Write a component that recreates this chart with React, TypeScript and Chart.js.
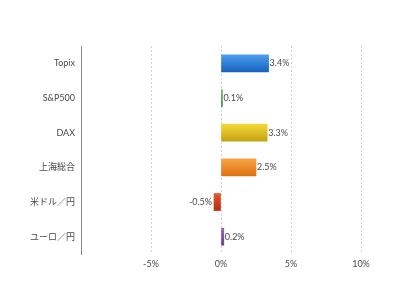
import React, { useEffect, useRef } from "react";
import { Chart, registerables } from "chart.js";

Chart.register(...registerables);

const categories = ["Topix", "S&P500", "DAX", "上海総合", "米ドル／円", "ユーロ／円"];
const values = [3.4, 0.1, 3.3, 2.5, -0.5, 0.2];
const tickValues = [-10, -5, 0, 5, 10];
const topColors = ["#4b9ded", "#5cb860", "#f2d83a", "#f5a443", "#e9562f", "#9466b3"];
const bottomColors = ["#1a63bf", "#2f7d34", "#c6a212", "#df7212", "#b52c12", "#6a3f8a"];

const FONT = "Lato, 'Noto Sans CJK JP', sans-serif";

const labelPlugin = {
  id: "barLabels",
  afterDatasetsDraw(chart: any) {
    const ctx = chart.ctx;
    const meta = chart.getDatasetMeta(0);
    ctx.save();
    ctx.font = `9px ${FONT}`;
    ctx.fillStyle = "#4a4a4a";
    ctx.textBaseline = "middle";
    meta.data.forEach((bar: any, i: number) => {
      const v = values[i];
      const txt = `${v}%`;
      if (v >= 0) {
        ctx.textAlign = "left";
        ctx.fillText(txt, bar.x + 1, bar.y);
      } else {
        ctx.textAlign = "right";
        ctx.fillText(txt, bar.x - 2, bar.y);
      }
    });
    ctx.restore();
  },
};

export default function App() {
  const ref = useRef<HTMLCanvasElement | null>(null);
  useEffect(() => {
    if (!ref.current) return;
    const chart = new Chart(ref.current, {
      type: "bar",
      data: {
        labels: categories,
        datasets: [
          {
            data: values,
            barThickness: 17,
            backgroundColor: (c: any) => {
              const ch = c.chart;
              const ys = ch.scales?.y;
              const i = c.dataIndex;
              if (i === undefined) return topColors[0];
              if (!ys) return topColors[i];
              const yc = ys.getPixelForValue(i);
              if (!Number.isFinite(yc)) return topColors[i];
              const g = ch.ctx.createLinearGradient(0, yc - 8.5, 0, yc + 8.5);
              g.addColorStop(0, topColors[i]);
              g.addColorStop(1, bottomColors[i]);
              return g;
            },
            borderWidth: 0,
          },
        ],
      },
      options: {
        indexAxis: "y",
        animation: false,
        responsive: true,
        maintainAspectRatio: false,
        layout: { padding: { top: 38, right: 31, left: 0, bottom: 0 } },
        plugins: { legend: { display: false }, tooltip: { enabled: false } },
        scales: {
          x: {
            min: -10,
            max: 10,
            afterBuildTicks: (axis: any) => {
              axis.ticks = tickValues.map((v) => ({ value: v }));
            },
            afterFit: (axis: any) => {
              axis.height = 38;
            },
            grid: {
              color: (c: any) => (c.tick && c.tick.value === -10 ? "rgba(0,0,0,0)" : "#d2d2d2"),
              lineWidth: 1,
              drawTicks: false,
            },
            border: { display: false, dash: [2, 2] },
            ticks: {
              padding: 5,
              color: "#4a4a4a",
              font: { family: FONT, size: 9 },
              callback: (v: any) => (Number(v) === -10 ? "" : `${v}%`),
            },
          },
          y: {
            afterFit: (axis: any) => {
              axis.width = 73;
            },
            grid: { display: false, drawTicks: false },
            border: { display: true, color: "#8a8a8a", width: 1 },
            ticks: {
              padding: 6,
              color: "#4a4a4a",
              font: { family: FONT, size: 9 },
            },
          },
        },
      } as any,
      plugins: [labelPlugin],
    });
    return () => chart.destroy();
  }, []);
  return (
    <div style={{ width: 384, height: 284, position: "relative" }}>
      <canvas ref={ref} />
    </div>
  );
}
